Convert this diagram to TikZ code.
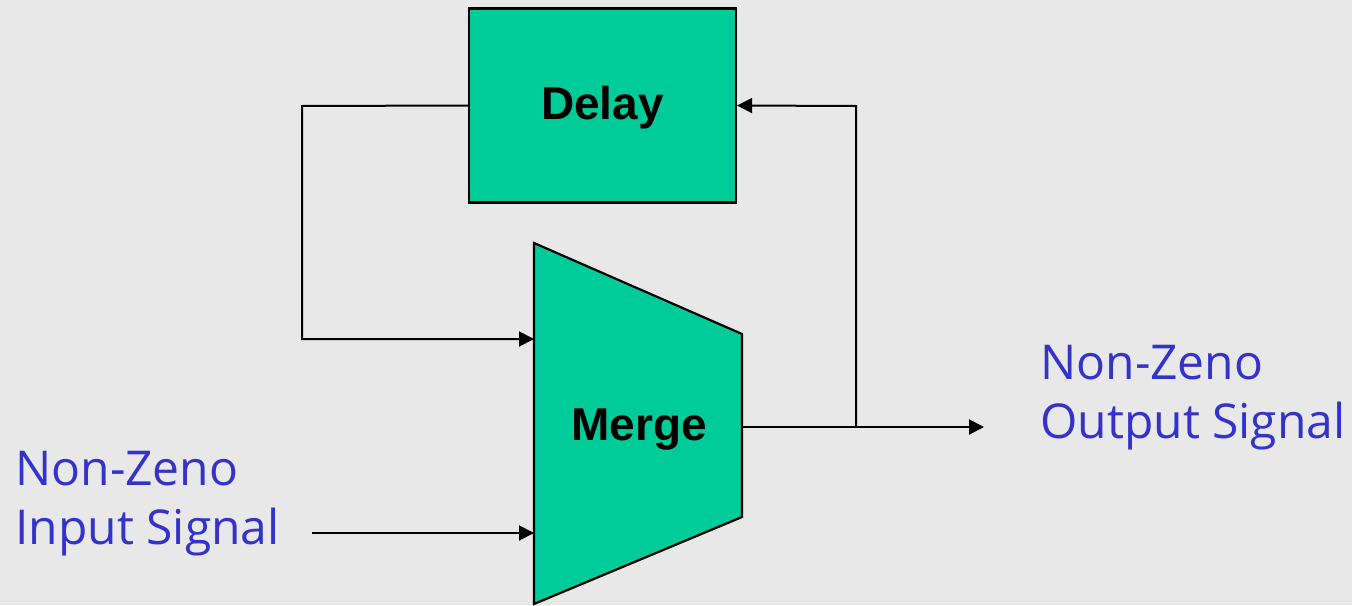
\documentclass[tikz,border=0pt]{standalone}
\usepackage{fontspec}
\setmainfont{Liberation Sans}
\newfontfamily\labelfont{Open Sans}
\usetikzlibrary{positioning,calc,arrows.meta}

\definecolor{blockgreen}{HTML}{00CC99}
\definecolor{labelblue}{HTML}{3333CC}
\definecolor{bggray}{HTML}{E8E8E8}

\begin{document}
\begin{tikzpicture}[
    x=0.5pt, y=-0.5pt,
    block/.style={draw, line width=1.1pt, fill=blockgreen},
    blocktext/.style={font=\fontsize{23}{28}\bfseries\selectfont},
    wire/.style={draw, line width=1pt, -{Triangle[length=7.5pt, width=7.5pt]}},
    plain/.style={draw, line width=1pt},
    signal/.style={align=left, inner sep=0pt, anchor=north west, color=labelblue,
        font=\labelfont\fontsize{24}{29.5}\selectfont}
]

% Background and page size
\fill[bggray] (0,0) rectangle (1352,605);
\useasboundingbox (0,0) rectangle (1352,605);

% Delay block
\node[block, blocktext, text depth=2.5pt, minimum width=133.5pt, minimum height=97pt] (delay) at (602.5,105.5) {Delay};

% Merge block (trapezoid) and its ports
\coordinate (mtl) at (534,243);
\coordinate (mtr) at (742,334);
\coordinate (mbr) at (742,517);
\coordinate (mbl) at (534,604);
\draw[block] (mtl) -- (mtr) -- (mbr) -- (mbl) -- cycle;
\node[blocktext] (merge) at (639,430) {Merge};
\coordinate (in1) at (534,339);
\coordinate (in2) at (534,533);
\coordinate (out) at (742,427);

% Feedback corners
\coordinate (fbl) at (302,106);
\coordinate (fbld) at (302,339);
\coordinate (split) at (856,427);
\coordinate (fbr) at (856,106);

% Signal labels
\node[signal] (inlabel) at (15,451) {Non-Zeno\\Input Signal};
\node[signal] (outlabel) at (1040,345) {Non-Zeno\\Output Signal};
\coordinate (instart) at (312,533);
\coordinate (outend) at (984,427);

% Wires
\draw[wire] (delay.west) -- (fbl) -- (fbld) -- (in1);
\draw[wire] (instart) -- (in2);
\draw[plain] (out) -- (split);
\draw[wire] (split) -- (outend);
\draw[wire] (split) -- (fbr) -- (delay.east);

\end{tikzpicture}
\end{document}
